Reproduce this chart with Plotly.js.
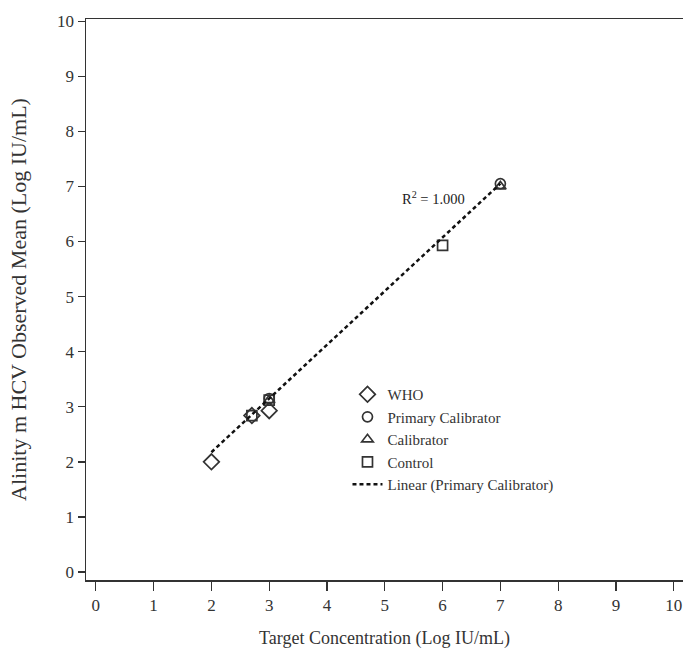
<!DOCTYPE html>
<html>
<head>
<meta charset="utf-8">
<script src="https://cdn.plot.ly/plotly-3.0.1.min.js"></script>
<style>html,body{margin:0;padding:0;background:#fff;}#chart{width:683px;height:649px;}</style>
</head>
<body>
<div id="chart"></div>
<script>
// Data
const whoX = [2, 2.7, 3];
const whoY = [2.0, 2.84, 2.93];
const primaryX = [3, 7];
const primaryY = [3.15, 7.05];
const calibratorX = [3, 7];
const calibratorY = [3.12, 7.0];
const controlX = [2.7, 3, 6];
const controlY = [2.84, 3.12, 5.93];
const fitRange = [2, 7];
const xTicks = [0,1,2,3,4,5,6,7,8,9,10];
const yTicks = [0,1,2,3,4,5,6,7,8,9,10];
const r2Label = 'R<sup>2</sup> = 1.000';

// Linear fit through primary calibrator
const n = primaryX.length;
const mx = primaryX.reduce((a,b)=>a+b,0)/n;
const my = primaryY.reduce((a,b)=>a+b,0)/n;
let sxy=0, sxx=0;
for (let i=0;i<n;i++){ sxy += (primaryX[i]-mx)*(primaryY[i]-my); sxx += (primaryX[i]-mx)**2; }
const slope = sxy/sxx, intercept = my - slope*mx;
const fitY = fitRange.map(x => intercept + slope*x);

const font = "'Liberation Serif', 'Times New Roman', serif";
const mk = (sym, size) => ({symbol: sym, size: size, color: '#333', line: {color: '#333', width: 1.7}});

const traces = [
  {x: whoX, y: whoY, mode: 'markers', name: 'WHO', marker: mk('diamond-open', 12)},
  {x: primaryX, y: primaryY, mode: 'markers', name: 'Primary Calibrator', marker: mk('circle-open', 10)},
  {x: calibratorX, y: calibratorY, mode: 'markers', name: 'Calibrator', marker: mk('triangle-up-open', 10)},
  {x: controlX, y: controlY, mode: 'markers', name: 'Control', marker: mk('square-open', 10)},
  {x: fitRange, y: fitY, mode: 'lines', name: 'Linear (Primary Calibrator)', line: {color: '#111', width: 2.5, dash: '4px,3px'}}
];

const layout = {
  width: 683, height: 649,
  margin: {l: 86, r: 0, t: 19, b: 69},
  paper_bgcolor: '#fff', plot_bgcolor: '#fff',
  font: {family: font, color: '#333', size: 16},
  showlegend: true,
  legend: {
    x: 0.438, y: 0.36, xanchor: 'left', yanchor: 'top',
    bgcolor: 'rgba(0,0,0,0)', font: {family: font, size: 15, color: '#333'},
    tracegroupgap: 0, itemwidth: 30
  },
  xaxis: {
    range: [-0.17, 10.16], tickvals: xTicks, ticks: 'outside', ticklen: 9, tickwidth: 1.3, tickcolor: '#333',
    showline: true, linecolor: '#333', linewidth: 1.5, mirror: true, showgrid: false, zeroline: false,
    tickfont: {family: font, size: 17, color: '#333'},
    title: {text: 'Target Concentration (Log IU/mL)', font: {family: font, size: 18, color: '#333'}, standoff: 19}
  },
  yaxis: {
    range: [-0.145, 10.04], tickvals: yTicks, ticks: 'outside', ticklen: 7, tickwidth: 1.3, tickcolor: '#333',
    showline: true, linecolor: '#333', linewidth: 1.5, showgrid: false, zeroline: false,
    tickfont: {family: font, size: 17, color: '#333'},
    title: {text: 'Alinity m HCV Observed Mean (Log IU/mL)', font: {family: font, size: 22, color: '#333'}, standoff: 24}
  },
  annotations: [{
    x: 5.85, y: 6.79, xref: 'x', yref: 'y', text: r2Label, showarrow: false,
    font: {family: font, size: 14.5, color: '#222'}
  }]
};

Plotly.newPlot('chart', traces, layout, {displayModeBar: false, staticPlot: true});
</script>
</body>
</html>
